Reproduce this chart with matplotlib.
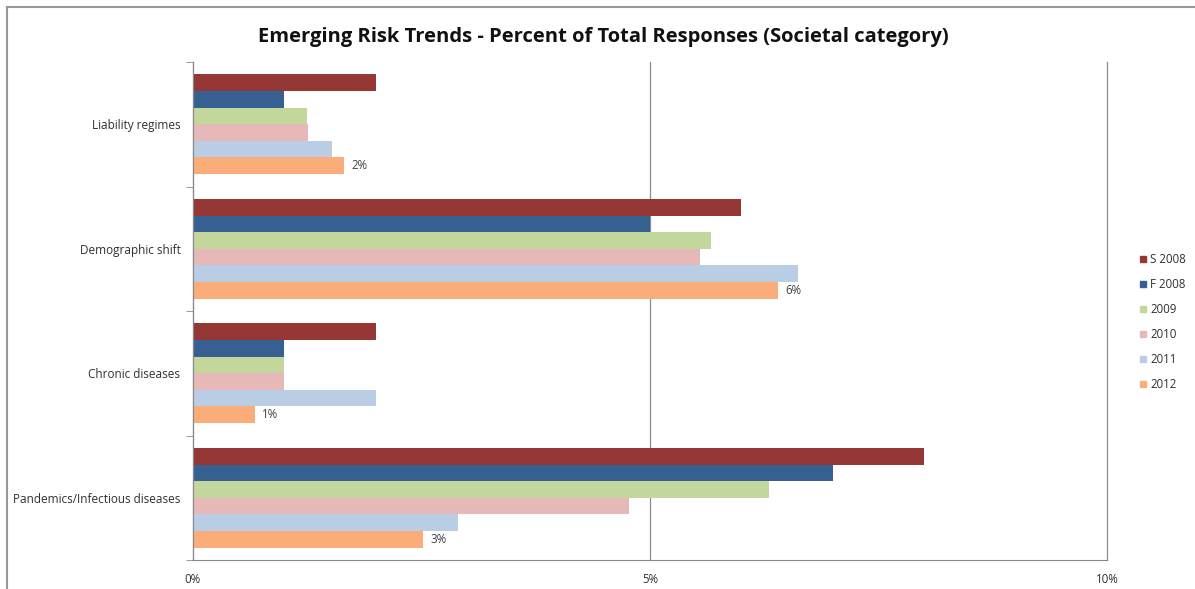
import numpy as np
import matplotlib.pyplot as plt
from matplotlib.lines import Line2D
from matplotlib.ticker import FuncFormatter

plt.rcParams['font.family'] = ['Open Sans', 'DejaVu Sans']

# categories from top to bottom
categories = ['Liability regimes', 'Demographic shift', 'Chronic diseases',
              'Pandemics/Infectious diseases']
series = ['S 2008', 'F 2008', '2009', '2010', '2011', '2012']
colors = ['#953735', '#376092', '#C3D69B', '#E6B9B8', '#B9CDE5', '#FAAD78']

# values in percent
s2008 = [2.0, 6.0, 2.0, 8.0]
f2008 = [1.0, 5.0, 1.0, 7.0]
y2009 = [1.25, 5.67, 1.0, 6.3]
y2010 = [1.26, 5.55, 1.0, 4.77]
y2011 = [1.52, 6.62, 2.0, 2.9]
y2012 = [1.65, 6.4, 0.68, 2.52]
values = [s2008, f2008, y2009, y2010, y2011, y2012]

fig = plt.figure(figsize=(11.95, 5.89), dpi=100)
ax = fig.add_axes([0.1615, 0.0492, 0.7649, 0.8455])

n = len(series)
group = 0.8
h = group / n
ypos = np.arange(len(categories))
for i, (name, vals, c) in enumerate(zip(series, values, colors)):
    offs = -group / 2 + h * (i + 0.5)
    bars = ax.barh(ypos + offs, vals, height=h, color=c, label=name)
    if name == '2012':
        for b, v in zip(bars, vals):
            ax.text(v + 0.08, b.get_y() + h / 2, f'{v:.0f}%', va='center',
                    ha='left', fontsize=8.3, color='#404040')

ax.set_ylim(len(categories) - 0.5, -0.5)
ax.set_xlim(0, 10)
ax.set_xticks([0, 5, 10])
ax.xaxis.set_major_formatter(FuncFormatter(lambda x, p: f'{x:.0f}%'))
ax.set_yticks(ypos)
ax.set_yticklabels(categories)
ax.set_yticks(np.arange(len(categories) + 1) - 0.5, minor=True)
ax.tick_params(axis='y', which='major', length=0, labelsize=8.5, pad=9,
               labelcolor='#303030')
ax.tick_params(axis='y', which='minor', length=5, color='#888888', direction='out')
ax.tick_params(axis='x', length=0, labelsize=8.3, pad=9, labelcolor='#303030')

ax.grid(axis='x', color='#8c8c8c', linewidth=0.9)
for gl in ax.get_xgridlines():
    gl.set_clip_on(False)
ax.set_axisbelow(True)
for s in ['top', 'right']:
    ax.spines[s].set_visible(False)
ax.spines['left'].set_color('#888888')
ax.spines['bottom'].set_color('#888888')

fig.text(0.505, 0.938,
         'Emerging Risk Trends - Percent of Total Responses (Societal category)',
         fontsize=14.5, fontweight='bold', color='#111111', ha='center', va='center')

handles = [Line2D([], [], marker='s', linestyle='none', markersize=5,
                  markerfacecolor=c, markeredgecolor=c) for c in colors]
fig.legend(handles, series, loc='center left', bbox_to_anchor=(0.945, 0.453),
           frameon=False, fontsize=8.3, handlelength=0.6, handletextpad=0.3,
           labelspacing=1.05, labelcolor='#303030')

# chart border
fig.add_artist(Line2D([0.006, 1.0], [0.988, 0.988], color='#999999', lw=1.5))
fig.add_artist(Line2D([0.006, 0.006], [0.0, 0.988], color='#999999', lw=1.5))

fig.savefig('out.png', dpi=100)
